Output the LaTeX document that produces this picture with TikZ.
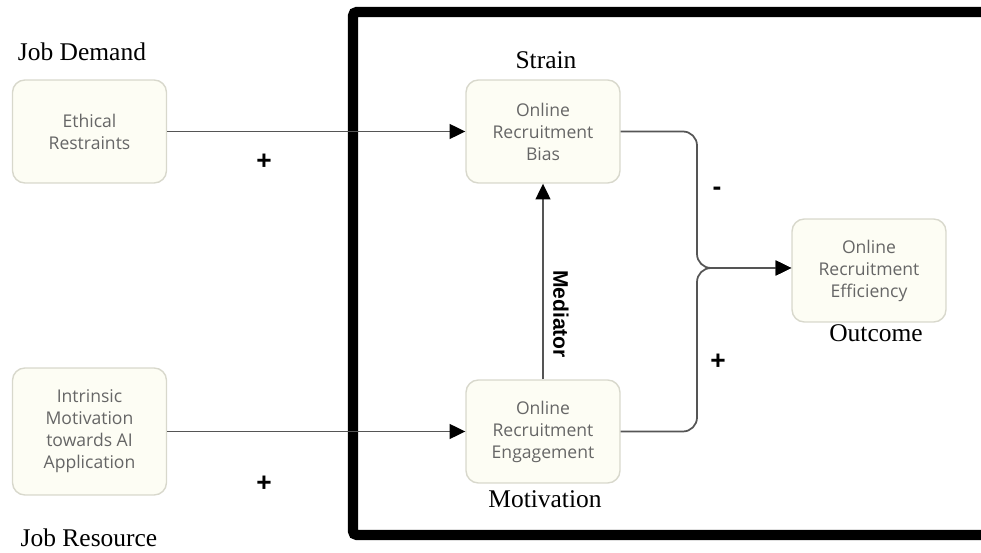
\documentclass[tikz,border=0pt]{standalone}
\usepackage{fontspec}
\setmainfont{Liberation Serif}
\newfontfamily\boxfont{Open Sans}
\newfontfamily\labfont{Liberation Sans}
\usetikzlibrary{arrows.meta}
\definecolor{boxfill}{HTML}{FDFDF4}
\definecolor{boxline}{HTML}{D8D8CC}
\definecolor{boxtext}{HTML}{666666}
\definecolor{conncol}{HTML}{555555}
\tikzset{
  cbox/.style={draw=boxline, line width=0.8pt, fill=boxfill, rounded corners=7pt,
    minimum width=3.08cm, minimum height=2.06cm, inner sep=0pt, align=center,
    text=boxtext, font=\boxfont\fontsize{10}{12.5}\selectfont},
  conn/.style={draw=conncol, line width=1pt},
  tip/.style={-{Triangle[length=9pt,width=8.5pt,fill=black,color=black]}},
  serif/.style={font=\fontsize{14.5}{16}\selectfont, inner sep=0pt},
  sign/.style={font=\labfont\bfseries\fontsize{15}{17}\selectfont, inner sep=0pt},
  medlab/.style={font=\labfont\bfseries\fontsize{12}{14}\selectfont, inner sep=0pt, rotate=-90}
}
\begin{document}
\begin{tikzpicture}[x=0.02cm,y=-0.02cm]
\useasboundingbox (0,0) rectangle (981,553);
\begin{scope}
\clip (0,0) rectangle (981,553);
\draw[line width=5.7pt, rounded corners=2pt] (1000,12) -- (353,12) -- (353,535) -- (1000,535);
\end{scope}
% nodes
\node[cbox] (er) at (89.5,131.5) {Ethical\\Restraints};
\node[cbox, minimum height=2.54cm] (im) at (89.5,431.5) {Intrinsic\\Motivation\\towards AI\\Application};
\node[cbox] (bias) at (543,131.5) {Online\\Recruitment\\Bias};
\node[cbox] (eng) at (543,431.5) {Online\\Recruitment\\Engagement};
\node[cbox] (eff) at (869,270.5) {Online\\Recruitment\\Efficiency};
% labels
\node[serif] (jd) at (82,52) {Job Demand};
\node[serif] (jr) at (89,538) {Job Resource};
\node[serif] (st) at (546,60) {Strain};
\node[serif] (mo) at (545,499) {Motivation};
\node[serif] (oc) at (876,333) {Outcome};
\node[medlab] (med) at (561,314) {Mediator};
% connectors
\coordinate (j) at (697,268);
\draw[conn, tip] (er.east) -- (bias.west);
\draw[conn, tip] (im.east) -- (eng.west);
\draw[conn, tip] (eng.north) -- (bias.south);
\draw[conn, tip, rounded corners=8pt] (bias.east) -| (j) -- (eff.west |- j);
\draw[conn, tip, rounded corners=8pt] (eng.east) -| (j) -- (eff.west |- j);
% signs
\node[sign] (p1) at (264,162) {+};
\node[sign] (p2) at (264,484) {+};
\node[sign] (m1) at (717,191) {-};
\node[sign] (p3) at (718,362) {+};
\end{tikzpicture}
\end{document}
